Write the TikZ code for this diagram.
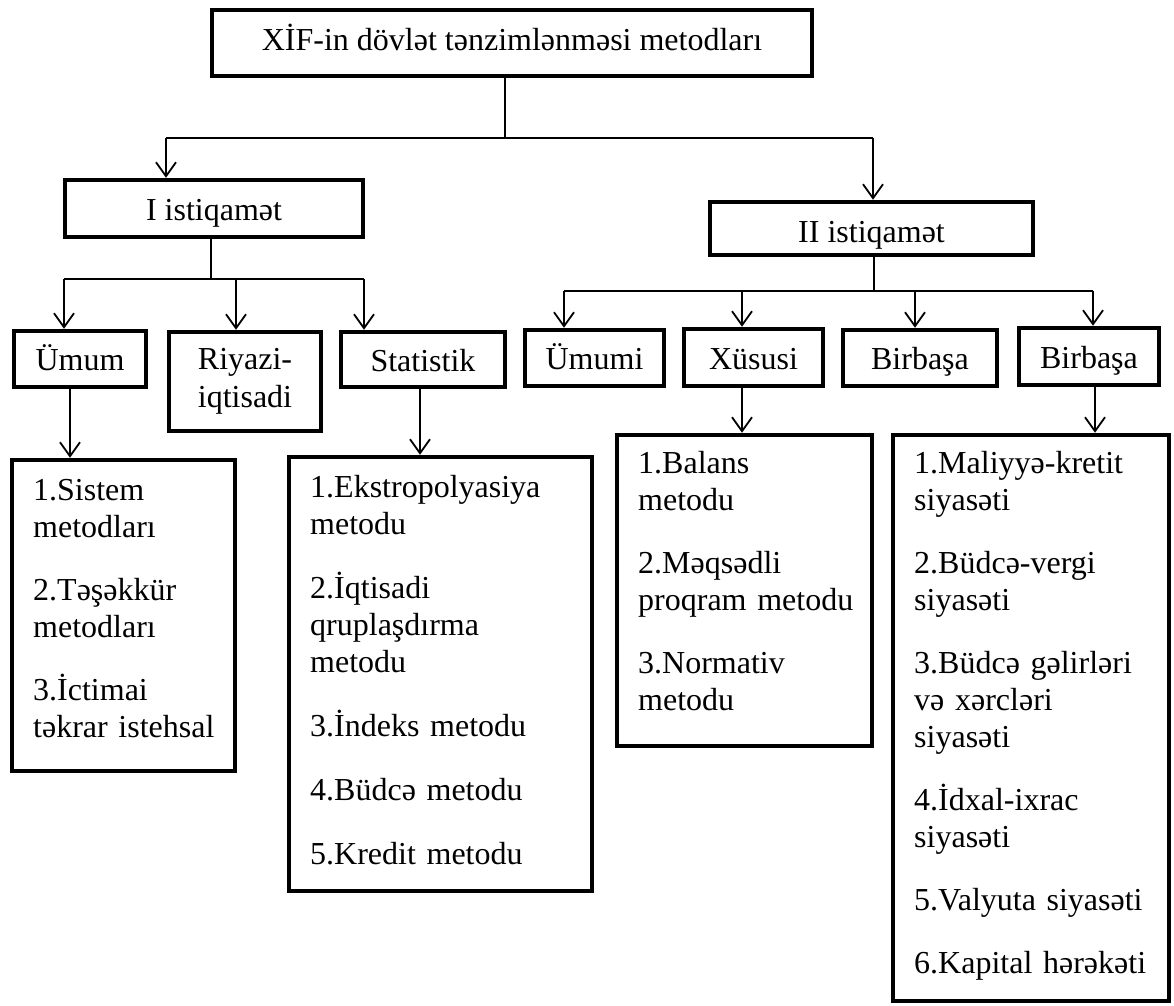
\documentclass[tikz,border=0pt]{standalone}
\usepackage{fontspec}
\setmainfont{Liberation Serif}
\usetikzlibrary{arrows.meta,calc}
\begin{document}
\begin{tikzpicture}[x=1pt,y=-1pt,
  box/.style={draw, line width=4.5pt, inner sep=0pt, align=center, font=\fontsize{32}{37.5}\selectfont},
  one/.style={text height=23pt, text depth=0pt},
  listtext/.style={anchor=base west, inner sep=0pt, align=left, text width=#1, font=\fontsize{32}{37}\selectfont},
  conn/.style={line width=1.5pt},
  arr/.style={conn,-{Straight Barb[length=14pt,width=20pt,line width=1.8pt]}}]
\fill[white] (0,0) rectangle (1174,1005);
\useasboundingbox (0,0) rectangle (1174,1005);

% boxes
\node[box, text height=14pt, text depth=0pt, minimum width=600pt, minimum height=66pt] (top) at (512,43) {XİF-in dövlət tənzimlənməsi metodları};
\node[box, one, minimum width=298pt, minimum height=57pt] (dir1) at (214,208.5) {I istiqamət};
\node[box, one, text height=27pt, minimum width=323pt, minimum height=53pt] (dir2) at (871.5,228.5) {II istiqamət};

\node[box, one, minimum width=132pt, minimum height=56pt] (umum) at (80,359) {Ümum};
\node[box, minimum width=152pt, minimum height=99pt] (riyazi) at (245,381.5) {Riyazi-\\iqtisadi};
\node[box, one, minimum width=164pt, minimum height=55pt] (stat) at (423,359.5) {Statistik};
\node[box, one, minimum width=139pt, minimum height=56pt] (umumi) at (594.5,358) {Ümumi};
\node[box, one, minimum width=139pt, minimum height=57pt] (xusu) at (753.5,357.5) {Xüsusi};
\node[box, one, minimum width=154pt, minimum height=56pt] (birb1) at (920,358) {Birbaşa};
\node[box, one, minimum width=140pt, minimum height=57pt] (birb2) at (1089,356.5) {Birbaşa};

\node[box, minimum width=223pt, minimum height=311pt] (sist) at (123.5,615.5) {};
\node[box, minimum width=303pt, minimum height=434pt] (statl) at (440.5,674) {};
\node[box, minimum width=255pt, minimum height=311pt] (xusl) at (744.5,590.5) {};
\node[box, minimum width=276pt, minimum height=566pt] (birl) at (1031,718) {};

% list texts
\node[listtext=200pt] (sistT) at (33,500) {1.Sistem\\metodları\\[26pt]2.Təşəkkür\\metodları\\[26pt]3.İctimai\\təkrar istehsal};
\node[listtext=270pt] (statT) at (310,497) {1.Ekstropolyasiya\\metodu\\[27pt]2.İqtisadi\\qruplaşdırma\\metodu\\[27pt]3.İndeks metodu\\[27pt]4.Büdcə metodu\\[27pt]5.Kredit metodu};
\node[listtext=230pt] (xusT) at (638,473) {1.Balans\\metodu\\[26pt]2.Məqsədli\\proqram metodu\\[26pt]3.Normativ\\metodu};
\node[listtext=250pt] (birT) at (914,473) {1.Maliyyə-kretit\\siyasəti\\[26pt]2.Büdcə-vergi\\siyasəti\\[26pt]3.Büdcə gəlirləri\\və xərcləri\\siyasəti\\[26pt]4.İdxal-ixrac\\siyasəti\\[26pt]5.Valyuta siyasəti\\[26pt]6.Kapital hərəkəti};

% connectors: top level
\coordinate (t1) at (505,138);
\coordinate (hL) at (166,138);
\coordinate (hR) at (873,138);
\draw[conn] (top.south -| t1) -- (t1);
\draw[conn] (hL) -- (hR);
\draw[arr] (hL) -- (hL |- dir1.north);
\draw[arr] (hR) -- (hR |- dir2.north);

% I istiqamet branch
\coordinate (i1) at (211,279);
\coordinate (iL) at (64,279);
\coordinate (iM) at (236,279);
\coordinate (iR) at (364,279);
\draw[conn] (dir1.south -| i1) -- (i1);
\draw[conn] (iL) -- (iR);
\draw[arr] (iL) -- (iL |- umum.north);
\draw[arr] (iM) -- (iM |- riyazi.north);
\draw[arr] (iR) -- (iR |- stat.north);

% II istiqamet branch
\coordinate (k1) at (874,291);
\coordinate (k2) at (564,291);
\coordinate (k3) at (742,291);
\coordinate (k4) at (915,291);
\coordinate (k5) at (1093,291);
\draw[conn] (dir2.south -| k1) -- (k1);
\draw[conn] (k2) -- (k5);
\draw[arr] (k2) -- (k2 |- umumi.north);
\draw[arr] (k3) -- (k3 |- xusu.north);
\draw[arr] (k4) -- (k4 |- birb1.north);
\draw[arr] (k5) -- (k5 |- birb2.north);

% to lists
\draw[arr] ([xshift=-10pt]umum.south) -- ([xshift=-10pt]umum.south |- sist.north);
\draw[arr] ([xshift=-3pt]stat.south) -- ([xshift=-3pt]stat.south |- statl.north);
\draw[arr] ([xshift=-11.5pt]xusu.south) -- ([xshift=-11.5pt]xusu.south |- xusl.north);
\draw[arr] ([xshift=6pt]birb2.south) -- ([xshift=6pt]birb2.south |- birl.north);
\end{tikzpicture}
\end{document}
